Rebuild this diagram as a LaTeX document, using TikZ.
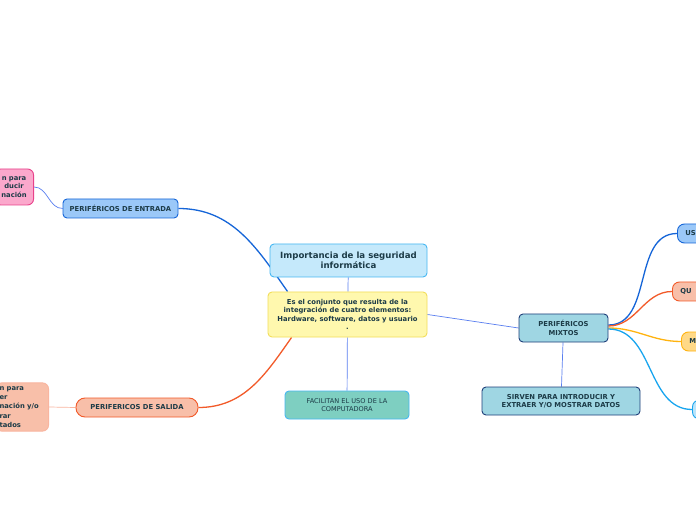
\documentclass[tikz,border=0pt]{standalone}
\usepackage{fontspec}
\setmainfont{DejaVu Sans}
\usepackage{xcolor}
\usetikzlibrary{positioning,backgrounds}

\definecolor{ink}{HTML}{1C3B47}
\definecolor{cblue}{HTML}{1565D8}
\definecolor{corange}{HTML}{F25A29}
\definecolor{cyellow}{HTML}{FFB30F}
\definecolor{csky}{HTML}{18A5EF}
\definecolor{clink}{HTML}{5A7FF0}
\definecolor{titfill}{HTML}{C5E9FB}
\definecolor{deffill}{HTML}{FFF8AE}
\definecolor{defline}{HTML}{F2DE5A}
\definecolor{facfill}{HTML}{7ECFC1}
\definecolor{mixfill}{HTML}{9FD6E3}
\definecolor{mixline}{HTML}{1F3F7A}
\definecolor{entfill}{HTML}{9BC8F8}
\definecolor{salfill}{HTML}{F8BFA9}
\definecolor{pinkfill}{HTML}{FBA8CC}
\definecolor{pinkline}{HTML}{E8418A}

\begin{document}
\begin{tikzpicture}[x=1pt, y=1pt,
  topic/.style={draw, line width=0.9pt, rounded corners=4pt, align=center, text=ink,
    font=\fontsize{6.8}{8.4}\selectfont\bfseries},
  leaf/.style={topic, anchor=west, minimum height=19pt, text width=40pt, align=left, inner xsep=8pt, rounded corners=7pt},
  branch/.style={line width=1.3pt},
  link/.style={draw=clink, line width=0.7pt}
]

\useasboundingbox (0,0) rectangle (696,520);
\clip (0,0) rectangle (696,520);

\node[topic, fill=titfill, draw=csky!80, minimum width=157pt, minimum height=33pt,
  font=\fontsize{8.6}{10}\selectfont\bfseries] (tit) at (348.5,259.5)
  {Importancia de la seguridad\\informática};

\node[topic, fill=deffill, draw=defline, minimum width=159pt, minimum height=45pt] (def) at (347.5,205.5)
  {Es el conjunto que resulta de la\\integración de cuatro elementos:\\Hardware, software, datos y usuario\\.};

\node[topic, font=\fontsize{6.6}{8.4}\selectfont, fill=facfill, draw=csky!80, minimum width=124pt, minimum height=28pt] (fac) at (347,115)
  {FACILITAN EL USO DE LA\\COMPUTADORA};

\node[topic, fill=entfill, draw=cblue, minimum width=115pt, minimum height=19pt] (ent) at (120.5,311.5)
  {PERIFÉRICOS DE ENTRADA};

\node[topic, fill=salfill, draw=corange, minimum width=122pt, minimum height=19pt, rounded corners=9pt] (sal) at (137,112.5)
  {PERIFERICOS DE SALIDA};

\node[topic, fill=pinkfill, draw=pinkline, rounded corners=6pt, anchor=east, text width=31pt, minimum height=36pt, inner xsep=4pt] (intro) at (34,333)
  {n para\\ducir\\nación};

\node[topic, fill=salfill, draw=corange!45, rounded corners=6pt, anchor=east, text width=45pt, align=left, minimum height=48pt, inner xsep=4pt,
  font=\fontsize{6.8}{9.4}\selectfont\bfseries] (mos) at (49,113)
  {n para\\er\\nación y/o\\rar\\tados};

\node[topic, fill=mixfill, draw=mixline, minimum width=89pt, minimum height=28pt] (mix) at (563.5,192)
  {PERIFÉRICOS\\MIXTOS};

\node[topic, fill=mixfill, draw=mixline, minimum width=158pt, minimum height=28pt] (sirv) at (561,119)
  {SIRVEN PARA INTRODUCIR Y\\EXTRAER Y/O MOSTRAR DATOS};

\node[leaf, fill=entfill, draw=cblue] (us) at (677,286.5) {US};
\node[leaf, fill=salfill, draw=corange] (qu) at (672,228.5) {QU};
\node[leaf, fill=cyellow!50, draw=cyellow] (m) at (681,178.5) {M};
\node[leaf, fill=csky!30, draw=csky] (blank) at (692,110.5) {};

\begin{scope}[on background layer]
\fill[white] (0,0) rectangle (696,520);
\draw[branch, cblue] (ent.east) to[out=0, in=125] ([xshift=20pt]def.north west);
\draw[branch, corange] (sal.east) to[out=0, in=235] ([xshift=24pt]def.south west);
\draw[link] (tit) -- (def);
\draw[link] (def) -- (fac);
\draw[link] (def.east) -- (mix.west);
\draw[link] (mix) -- (sirv);
\draw[link] (ent.west) to[out=180, in=0] (intro.east);
\draw[draw=corange!45, line width=0.7pt] (sal.west) -- (mos.east);
\draw[branch, cblue] ([yshift=3pt]mix.east) to[out=0, in=180] (us.west);
\draw[branch, corange] ([yshift=2pt]mix.east) to[out=0, in=180] (qu.west);
\draw[branch, cyellow] (mix.east) to[out=0, in=180] (m.west);
\draw[branch, csky] ([yshift=-1pt]mix.east) to[out=0, in=180] (blank.west);
\end{scope}

\end{tikzpicture}
\end{document}
